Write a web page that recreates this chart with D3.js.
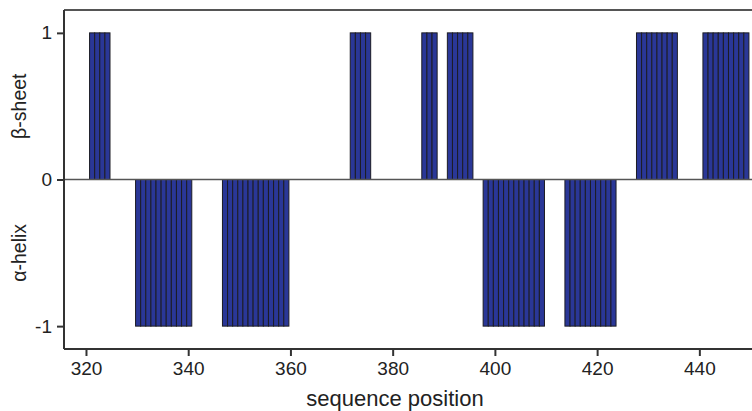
<!DOCTYPE html>
<html>
<head>
<meta charset="utf-8">
<script src="https://cdn.jsdelivr.net/npm/d3@7"></script>
<style>
  html, body { margin: 0; padding: 0; background: #fff; }
  svg { display: block; font-family: "Liberation Sans", Arial, sans-serif; }
</style>
</head>
<body>
<svg id="chart" width="752" height="411"></svg>
<script>
// Secondary-structure assignment per residue: +1 = beta-sheet, -1 = alpha-helix
const sheetResidues = [321, 322, 323, 324,
                       372, 373, 374, 375,
                       386, 387, 388,
                       391, 392, 393, 394, 395,
                       428, 429, 430, 431, 432, 433, 434, 435,
                       441, 442, 443, 444, 445, 446, 447, 448, 449];
const helixResidues = [330, 331, 332, 333, 334, 335, 336, 337, 338, 339, 340,
                       347, 348, 349, 350, 351, 352, 353, 354, 355, 356, 357, 358, 359,
                       398, 399, 400, 401, 402, 403, 404, 405, 406, 407, 408, 409,
                       414, 415, 416, 417, 418, 419, 420, 421, 422, 423];
const sheetValue = 1;
const helixValue = -1;
const xTicks = [320, 340, 360, 380, 400, 420, 440];
const yTicks = [-1, 0, 1];
const yTitleTop = "β-sheet";
const yTitleBottom = "α-helix";
const xTitle = "sequence position";

const bars = sheetResidues.map(p => ({pos: p, value: sheetValue}))
  .concat(helixResidues.map(p => ({pos: p, value: helixValue})))
  .sort((a, b) => a.pos - b.pos);

const svg = d3.select("#chart");
const plotLeft = 64, plotRight = 752, plotTop = 10, plotBottom = 349;
const plainNumber = d => String(d); // keep an ASCII hyphen for negatives

const x = d3.scaleLinear().domain([315.7, 450.3]).range([plotLeft, plotRight]);
const y = d3.scaleLinear().domain([-1.156, 1.156]).range([plotBottom, plotTop]);

// bars: one per residue, spanning one sequence unit
svg.append("g")
  .selectAll("rect")
  .data(bars)
  .join("rect")
  .attr("x", d => x(d.pos - 0.3))
  .attr("width", d => x(d.pos + 0.7) - x(d.pos - 0.3))
  .attr("y", d => y(Math.max(0, d.value)))
  .attr("height", d => Math.abs(y(d.value) - y(0)))
  .attr("fill", "#2a3797")
  .attr("stroke", "#1c1c24")
  .attr("stroke-width", 1);

// zero reference line
svg.append("line")
  .attr("x1", plotLeft).attr("x2", plotRight)
  .attr("y1", y(0)).attr("y2", y(0))
  .attr("stroke", "#555").attr("stroke-width", 1.6);

// top frame line
svg.append("line")
  .attr("x1", plotLeft).attr("x2", plotRight)
  .attr("y1", plotTop).attr("y2", plotTop)
  .attr("stroke", "#555").attr("stroke-width", 2);

// x axis
const xAxis = svg.append("g")
  .attr("transform", `translate(0,${plotBottom})`)
  .call(d3.axisBottom(x).tickValues(xTicks).tickSize(7).tickPadding(6).tickFormat(plainNumber));
xAxis.select(".domain").attr("stroke", "#333").attr("stroke-width", 2)
  .attr("d", `M${plotLeft},0H${plotRight}`);
xAxis.selectAll(".tick line").attr("stroke", "#333").attr("stroke-width", 2);
xAxis.selectAll(".tick text").attr("fill", "#222").style("font-size", "19px")
  .style("font-family", "'Liberation Sans', Arial, sans-serif");

// y axis
const yAxis = svg.append("g")
  .attr("transform", `translate(${plotLeft},0)`)
  .call(d3.axisLeft(y).tickValues(yTicks).tickSize(7).tickPadding(5).tickFormat(plainNumber));
yAxis.select(".domain").attr("stroke", "#333").attr("stroke-width", 2)
  .attr("d", `M0,${plotTop}V${plotBottom}`);
yAxis.selectAll(".tick line").attr("stroke", "#333").attr("stroke-width", 2);
yAxis.selectAll(".tick text").attr("fill", "#222").style("font-size", "19px")
  .style("font-family", "'Liberation Sans', Arial, sans-serif");

// axis titles
svg.append("text")
  .attr("x", 395).attr("y", 406)
  .attr("text-anchor", "middle")
  .attr("fill", "#222")
  .style("font-size", "22px")
  .text(xTitle);

svg.append("text")
  .attr("transform", `translate(26,${y(0.5)}) rotate(-90)`)
  .attr("text-anchor", "middle")
  .attr("fill", "#222")
  .style("font-size", "19.5px")
  .text(yTitleTop);

svg.append("text")
  .attr("transform", `translate(26,${y(-0.5)}) rotate(-90)`)
  .attr("text-anchor", "middle")
  .attr("fill", "#222")
  .style("font-size", "19.5px")
  .text(yTitleBottom);
</script>
</body>
</html>
